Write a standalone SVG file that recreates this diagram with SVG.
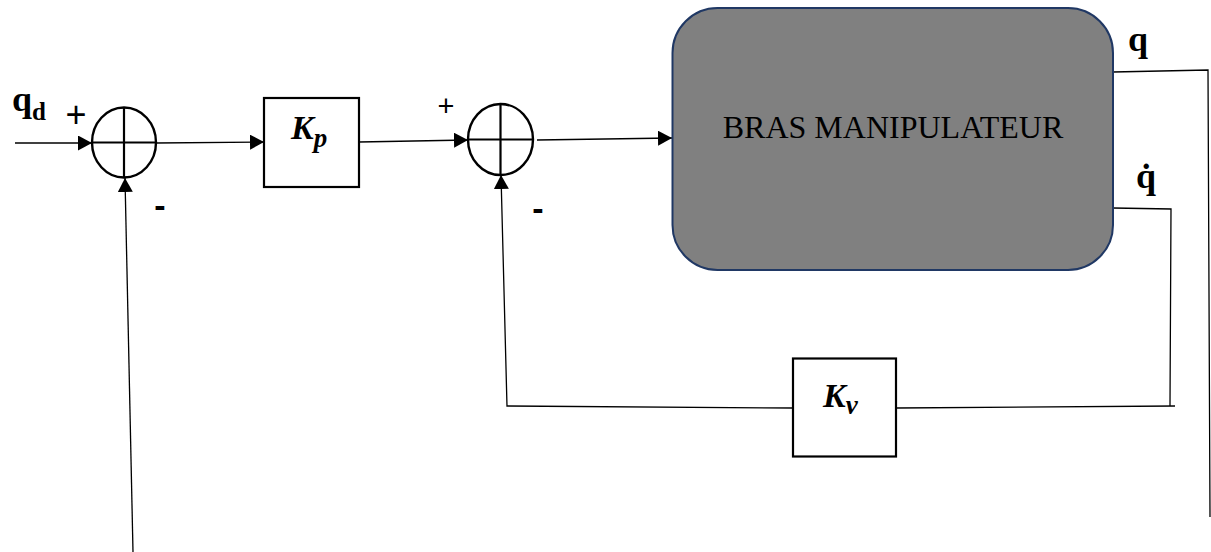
<svg xmlns="http://www.w3.org/2000/svg" width="1211" height="552" viewBox="0 0 1211 552">
<style>
.ln{fill:none;stroke:#000;stroke-width:1.3}
.box{fill:#fff;stroke:#000;stroke-width:2.2}
.sum{fill:#fff;stroke:#000;stroke-width:2.4}
.cross{stroke:#000;stroke-width:2.2}
.gain{font-family:"Liberation Serif",serif;font-weight:bold;font-style:italic;fill:#000}
.sig{font-family:"Liberation Serif",serif;font-weight:bold;fill:#000}
.sign{font-family:"Liberation Sans",sans-serif;fill:#000;text-anchor:middle}
</style>
<defs>
<marker id="arr" markerUnits="userSpaceOnUse" markerWidth="15" markerHeight="15" refX="14" refY="7.5" orient="auto">
<path d="M0,0 L14,7.5 L0,15 z" fill="#000"/>
</marker>
</defs>
<rect width="1211" height="552" fill="#fff"/>

<g id="connectors">
<line class="ln" x1="15" y1="143" x2="92" y2="143" marker-end="url(#arr)"/>
<line class="ln" x1="156" y1="143" x2="264" y2="142" marker-end="url(#arr)"/>
<line class="ln" x1="359" y1="142" x2="468" y2="140" marker-end="url(#arr)"/>
<line class="ln" x1="537" y1="140" x2="672" y2="138" marker-end="url(#arr)"/>
<polyline class="ln" points="1113,72 1208,70 1210,517"/>
<polyline class="ln" points="1113,208 1171,209 1170,406"/>
<line class="ln" x1="897" y1="408" x2="1175" y2="406"/>
<polyline class="ln" points="793,408 507,406 501,175" marker-end="url(#arr)"/>
<line class="ln" x1="133" y1="552" x2="125" y2="178" marker-end="url(#arr)"/>
</g>

<g id="sum1">
<ellipse class="sum" cx="124" cy="142.5" rx="32" ry="35"/>
<line class="cross" x1="92" y1="142.5" x2="156" y2="142.5"/>
<line class="cross" x1="124" y1="107.5" x2="124" y2="177.5"/>
</g>
<g id="sum2">
<ellipse class="sum" cx="500.5" cy="139.5" rx="32.5" ry="35.5"/>
<line class="cross" x1="468" y1="139.5" x2="533" y2="139.5"/>
<line class="cross" x1="500.5" y1="104" x2="500.5" y2="175"/>
</g>

<g id="kp">
<rect class="box" x="264" y="98" width="95" height="89"/>
<text class="gain" x="291" y="139" font-size="34">K<tspan font-size="27" dy="8">p</tspan></text>
</g>

<g id="kv">
<rect class="box" x="793" y="358.5" width="103" height="98"/>
<text class="gain" x="823" y="407" font-size="34">K<tspan font-size="27" dy="7">v</tspan></text>
</g>

<g id="bras">
<rect x="672.5" y="8" width="440.5" height="262" rx="45" ry="45" fill="#808080" stroke="#203864" stroke-width="2"/>
<text x="893" y="138" font-family="Liberation Serif, serif" font-size="32" text-anchor="middle" fill="#000">BRAS MANIPULATEUR</text>
</g>

<g id="labels">
<text class="sig" x="12" y="111" font-size="36">q<tspan font-size="25" dy="9">d</tspan></text>
<text class="sign" x="76" y="127" font-size="36">+</text>
<text class="sign" x="446" y="116" font-size="29">+</text>
<text class="sign" x="160" y="217" font-size="34" font-weight="bold">-</text>
<text class="sign" x="538" y="220" font-size="34" font-weight="bold">-</text>
<text class="sig" x="1128" y="51" font-size="36">q</text>
<text class="sig" x="1136" y="188" font-size="36">q̇</text>
</g>
</svg>
